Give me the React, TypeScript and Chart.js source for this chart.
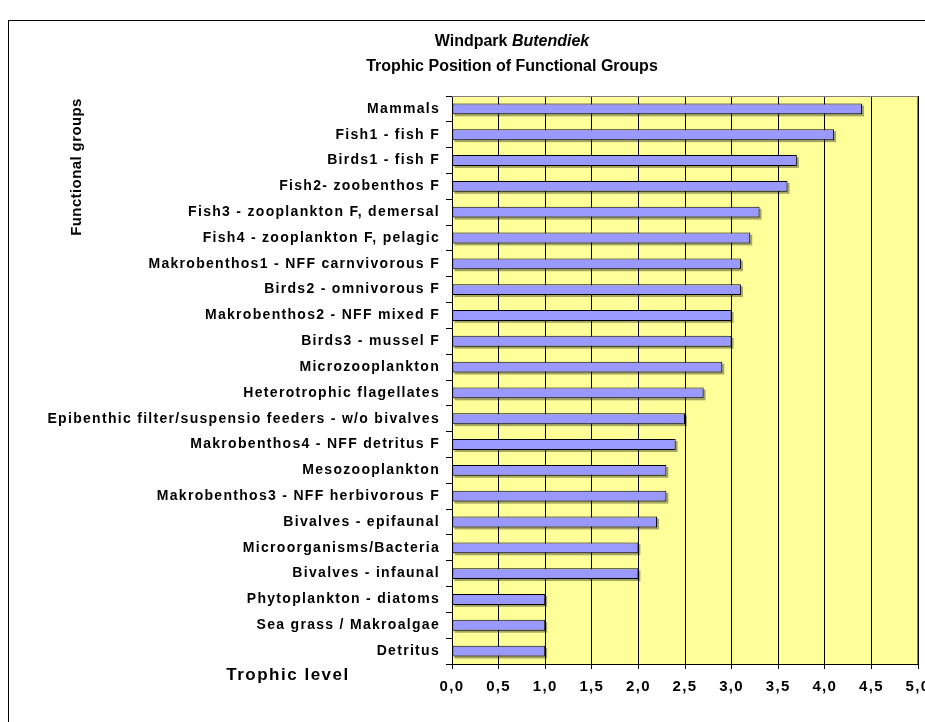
import { useEffect, useRef } from "react";
import { Chart, registerables } from "chart.js";

Chart.register(...registerables);

const categories = [
  "Mammals",
  "Fish1 - fish F",
  "Birds1 - fish F",
  "Fish2- zoobenthos F",
  "Fish3 - zooplankton F, demersal",
  "Fish4 - zooplankton F, pelagic",
  "Makrobenthos1 - NFF carnvivorous F",
  "Birds2 - omnivorous F",
  "Makrobenthos2 - NFF mixed F",
  "Birds3 - mussel F",
  "Microzooplankton",
  "Heterotrophic flagellates",
  "Epibenthic filter/suspensio feeders - w/o bivalves",
  "Makrobenthos4 - NFF detritus F",
  "Mesozooplankton",
  "Makrobenthos3 - NFF herbivorous F",
  "Bivalves - epifaunal",
  "Microorganisms/Bacteria",
  "Bivalves - infaunal",
  "Phytoplankton - diatoms",
  "Sea grass / Makroalgae",
  "Detritus",
];

const trophicLevels = [
  4.4, 4.1, 3.7, 3.6, 3.3, 3.2, 3.1, 3.1, 3.0, 3.0, 2.9, 2.7, 2.5, 2.4, 2.3,
  2.3, 2.2, 2.0, 2.0, 1.0, 1.0, 1.0,
];

const xMin = 0;
const xMax = 5;
const xStep = 0.5;

const titleRegular = "Windpark ";
const titleItalic = "Butendiek";
const titleLine2 = "Trophic Position of Functional Groups";
const yAxisTitle = "Functional groups";
const xAxisTitle = "Trophic level";

const FONT = "'Liberation Sans', Arial, sans-serif";

const decorPlugin = {
  id: "decor",
  beforeDraw(chart: any) {
    const ctx = chart.ctx as CanvasRenderingContext2D;
    const a = chart.chartArea;
    ctx.save();
    ctx.fillStyle = "#ffffff";
    ctx.fillRect(0, 0, chart.width, chart.height);
    ctx.strokeStyle = "#000000";
    ctx.lineWidth = 1;
    ctx.strokeRect(8.5, 20.5, chart.width + 20, chart.height + 20);
    ctx.fillStyle = "#FFFF99";
    ctx.fillRect(a.left, a.top, a.right - a.left, a.bottom - a.top);
    ctx.restore();
    (ctx as any).letterSpacing = "1.3px";
  },
  beforeDatasetsDraw(chart: any) {
    const ctx = chart.ctx as CanvasRenderingContext2D;
    const meta = chart.getDatasetMeta(0);
    ctx.save();
    ctx.fillStyle = "rgba(0,0,0,0.35)";
    meta.data.forEach((bar: any) => {
      const p = bar.getProps(["x", "y", "base", "height"], true);
      const top = p.y - p.height / 2;
      ctx.fillRect(p.base + 2, top + 2, p.x - p.base, p.height);
    });
    ctx.restore();
  },
  afterDraw(chart: any) {
    const ctx = chart.ctx as CanvasRenderingContext2D;
    const a = chart.chartArea;
    ctx.save();
    ctx.strokeStyle = "#808080";
    ctx.lineWidth = 1;
    ctx.beginPath();
    ctx.moveTo(a.left, a.top + 0.5);
    ctx.lineTo(a.right - 0.5, a.top + 0.5);
    ctx.lineTo(a.right - 0.5, a.bottom);
    ctx.stroke();

    // title
    const cx = 512;
    ctx.fillStyle = "#000";
    (ctx as any).letterSpacing = "0px";
    ctx.textBaseline = "middle";
    const fReg = `bold 16px ${FONT}`;
    const fIt = `italic bold 16px ${FONT}`;
    ctx.font = fReg;
    const w1 = ctx.measureText(titleRegular).width;
    ctx.font = fIt;
    const w2 = ctx.measureText(titleItalic).width;
    const x0 = cx - (w1 + w2) / 2;
    ctx.textAlign = "left";
    ctx.font = fReg;
    ctx.fillText(titleRegular, x0, 42);
    ctx.font = fIt;
    ctx.fillText(titleItalic, x0 + w1, 42);
    ctx.font = fReg;
    ctx.textAlign = "center";
    ctx.fillText(titleLine2, cx, 67);

    // x axis title
    (ctx as any).letterSpacing = "1.5px";
    ctx.font = `bold 17px ${FONT}`;
    ctx.textAlign = "center";
    ctx.fillText(xAxisTitle, 288, 675);

    // y axis title
    (ctx as any).letterSpacing = "0.4px";
    ctx.font = `bold 15px ${FONT}`;
    ctx.translate(77, 167);
    ctx.rotate(-Math.PI / 2);
    ctx.fillText(yAxisTitle, 0, 0);
    ctx.restore();
  },
};

export default function App() {
  const canvasRef = useRef<HTMLCanvasElement | null>(null);

  useEffect(() => {
    if (!canvasRef.current) return;
    const xTickValues: number[] = [];
    for (let v = xMin; v <= xMax + 1e-9; v += xStep) xTickValues.push(+v.toFixed(1));

    const chart = new Chart(canvasRef.current, {
      type: "bar",
      data: {
        labels: categories,
        datasets: [
          {
            data: trophicLevels,
            backgroundColor: "#9999FF",
            borderColor: "#000000",
            borderWidth: 1,
            borderSkipped: false,
            barPercentage: 0.42,
            categoryPercentage: 1,
          },
        ],
      },
      options: {
        indexAxis: "y",
        animation: false,
        responsive: false,
        devicePixelRatio: 1,
        layout: { padding: { top: 96, right: 42, left: 0, bottom: 0 } },
        plugins: {
          legend: { display: false },
          title: { display: false },
          tooltip: { enabled: false },
        },
        scales: {
          y: {
            type: "category",
            afterFit: (s: any) => {
              s.width = 452;
            },
            grid: {
              drawOnChartArea: false,
              drawTicks: true,
              tickLength: 6,
              color: "#000000",
              offset: true,
            },
            border: { color: "#000000" },
            ticks: {
              autoSkip: false,
              color: "#000000",
              padding: 6,
              font: { family: FONT, size: 14, weight: "bold" },
            },
          },
          x: {
            type: "linear",
            min: xMin,
            max: xMax,
            afterFit: (s: any) => {
              s.height = 58;
            },
            afterBuildTicks: (s: any) => {
              s.ticks = xTickValues.map((v) => ({ value: v }));
            },
            grid: {
              color: "#000000",
              tickLength: 5,
            },
            border: { color: "#000000" },
            ticks: {
              autoSkip: false,
              maxRotation: 0,
              color: "#000000",
              padding: 9,
              font: { family: FONT, size: 15, weight: "bold" },
              callback: (v: any) => Number(v).toFixed(1).replace(".", ","),
            },
          },
        },
      },
      plugins: [decorPlugin],
    });
    return () => chart.destroy();
  }, []);

  return (
    <div
      style={{
        position: "fixed",
        left: 0,
        top: 0,
        width: 925,
        height: 722,
        overflow: "hidden",
        background: "#fff",
      }}
    >
      <canvas
        ref={canvasRef}
        width={960}
        height={722}
        style={{ display: "block", width: 960, height: 722 }}
      />
    </div>
  );
}
